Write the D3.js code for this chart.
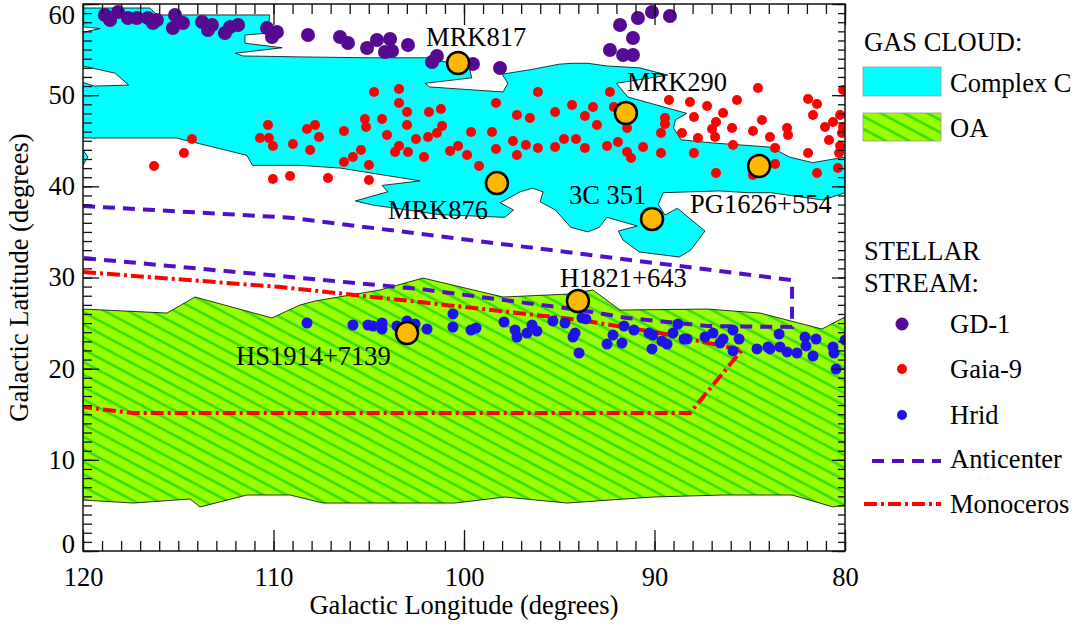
<!DOCTYPE html>
<html>
<head>
<meta charset="utf-8">
<script src="https://cdn.jsdelivr.net/npm/d3@7"></script>
<style>
body { margin: 0; background: #fff; }
svg text { font-family: "Liberation Serif", "Times New Roman", serif; }
</style>
</head>
<body>
<script>
// galactic coordinates, [l, b] in degrees
var xTicks = [120, 110, 100, 90, 80];
var yTicks = [0, 10, 20, 30, 40, 50, 60];

var complexC = [[120,59.56],[116.5,59.56],[116.1,58.8],[110.2,58.8],[110.3,56.8],[111.5,56.6],[111.5,55.7],[109.55,55.2],[112.0,54.6],[111.6,54.3],[108.6,54.2],[105.1,54.1],[101.9,54.1],[100.9,53.6],[99.7,52.9],[99.6,51.9],[102.05,51.3],[101.8,50.9],[97.95,50.35],[97.7,51.3],[98.0,52.3],[96.5,52.8],[95.0,53.4],[94.3,53.5],[93.5,53.5],[92.5,53.2],[90.8,53.0],[89.3,52.2],[92.0,51.3],[91.4,49.8],[88.3,48.0],[88.9,47.3],[89.0,46.4],[88.6,45.1],[86.9,44.75],[83.9,44.3],[82.9,43.2],[81.7,42.6],[80,43.2],[80,39.3],[81.15,38.5],[82.2,38.8],[83.9,39.3],[85.1,39.3],[86.6,39.5],[89.55,39.3],[89.8,38.0],[89.45,36.85],[88.8,37.6],[87.35,35.1],[88.1,33.0],[88.7,32.25],[90.8,32.8],[91.65,34.1],[91.9,35.1],[90.9,35.65],[92.5,36.6],[92.9,35.5],[93.5,35.0],[94.4,35.5],[95.2,37.4],[96.0,38.3],[95.85,39.4],[96.4,39.8],[97.05,39.4],[98.1,38.2],[97.4,37.4],[97.85,36.6],[101.3,36.9],[104.8,37.95],[105.7,38.4],[104.0,39.4],[104.3,40.1],[102.3,40.6],[106.5,42.0],[108.6,42.3],[111.1,42.3],[111.4,43.4],[115.1,45.3],[120,45.3],[120,51.4],[119.4,51.0],[117.6,51.1],[118.3,52.4],[120,53.2],[120,56.9],[119.1,57.3],[120,57.5]];
var complexCBit = [[120,43.98],[119.74,43.22],[120,42.34]];

var oaTop = [[120,26.54],[115.59,26.10],[114.12,27.86],[110.08,25.56],[108.61,26.98],[107.82,27.42],[104.41,28.63],[102.15,29.94],[97.95,27.86],[94.44,28.19],[93.23,28.63],[91.81,26.43],[87.24,26.54],[84.46,26.10],[81.21,24.35],[80,25.67]];
var oaBottom = [[120,5.59],[117.38,5.26],[114.38,5.70],[113.86,4.83],[111.39,6.14],[109.13,6.14],[107.40,5.26],[100.47,5.26],[97.85,5.92],[94.59,5.26],[90.08,5.92],[86.40,6.14],[82.78,6.14],[80.63,4.83],[80,5.05]];

var anticenter = [[120,37.84],[109.13,36.56],[82.78,29.72],[82.78,24.57],[87.24,24.68],[91.44,25.56],[93.91,26.43],[102.31,28.74],[109.66,30.16],[120,32.14]];
var monoceros = [[120,30.60],[109.66,28.96],[102.31,27.31],[93.91,25.34],[89.71,23.91],[85.41,22.05],[88.14,15.14],[117.38,15.14],[120,15.79]];

var gd1 = [[118.85,58.79],[118.58,58.24],[118.16,59.12],[117.64,58.46],[117.17,58.46],[116.59,58.46],[116.33,57.91],[116.12,58.24],[115.17,58.79],[115.28,57.37],[114.75,57.91],[113.75,58.02],[113.44,57.15],[113.23,57.69],[112.55,56.82],[112.28,57.47],[111.86,57.69],[110.34,57.37],[110.08,56.38],[109.82,56.93],[108.19,56.60],[106.51,56.38],[106.09,55.72],[105.09,55.17],[104.57,56.05],[103.88,56.16],[104.15,54.73],[103.78,54.84],[102.94,55.50],[101.68,53.64],[101.42,54.29],[99.53,53.42],[98.11,52.98],[92.34,54.95],[91.65,54.40],[91.13,54.40],[91.13,56.27],[91.81,57.69],[90.87,58.46],[90.13,59.12],[89.19,58.68]];

var gaia9 = [[116.27,42.23],[114.70,43.65],[114.28,45.19],[110.71,45.30],[110.29,46.72],[110.24,45.30],[110.03,44.42],[110.03,40.80],[109.13,41.13],[108.98,44.64],[107.14,40.91],[104.99,40.69],[108.24,46.28],[107.82,46.72],[107.61,45.41],[108.08,43.98],[106.30,46.07],[106.30,42.67],[105.83,43.22],[105.41,43.98],[104.99,42.34],[105.20,47.38],[105.14,46.51],[104.72,50.34],[104.30,47.38],[104.04,45.63],[103.62,43.76],[103.41,50.67],[103.41,49.14],[103.41,44.42],[102.99,48.15],[102.99,46.72],[102.94,43.76],[102.52,45.19],[102.10,43.22],[101.89,45.41],[101.84,48.15],[101.42,45.85],[101.21,48.48],[101.15,46.61],[100.73,43.87],[100.31,44.42],[99.84,43.43],[99.63,45.96],[99.21,42.23],[98.53,45.96],[98.32,49.14],[98.32,44.09],[97.43,44.97],[97.22,47.82],[97.22,43.43],[96.75,44.53],[96.54,47.49],[96.12,50.34],[96.12,44.20],[95.22,48.15],[95.22,44.31],[94.75,45.19],[94.33,48.92],[94.12,45.19],[93.65,44.20],[93.23,48.70],[93.65,47.71],[92.34,50.34],[93.02,46.72],[92.13,48.70],[92.49,44.42],[91.92,44.86],[91.44,46.40],[91.44,43.76],[91.23,43.10],[90.60,44.31],[89.66,45.85],[89.45,47.49],[89.45,46.84],[89.66,43.65],[89.24,49.47],[88.56,45.85],[88.14,49.25],[87.93,47.60],[87.93,43.65],[87.72,45.30],[87.24,48.81],[86.98,46.29],[86.82,45.41],[86.77,47.05],[86.40,48.04],[85.93,46.40],[85.88,44.53],[86.77,41.46],[85.67,49.47],[84.83,46.07],[84.83,41.24],[84.57,50.78],[84.36,47.27],[83.94,45.41],[83.67,44.20],[83.67,42.45],[83.04,46.40],[82.99,45.63],[81.94,49.57],[81.94,43.65],[81.68,47.82],[81.47,49.03],[81.47,41.46],[81.05,46.51],[80.84,45.08],[80.63,47.05],[80.37,42.01],[80.31,43.65],[80.26,44.42],[80.16,45.85],[80.10,46.51],[80.10,50.56],[80.26,47.82]];

var hrid = [[108.24,25.01],[105.83,24.79],[105.04,24.79],[104.78,24.68],[104.30,25.01],[104.30,24.35],[103.52,24.68],[102.99,25.23],[102.57,24.90],[101.94,24.35],[100.58,26.00],[100.58,24.57],[99.63,24.24],[99.37,24.46],[97.90,25.12],[97.32,24.24],[97.22,23.47],[96.69,23.91],[96.43,24.79],[96.17,24.13],[95.33,25.23],[94.70,25.01],[94.28,23.47],[94.17,23.91],[93.96,21.72],[93.81,25.56],[93.60,25.45],[92.49,22.70],[92.18,23.69],[91.71,22.81],[91.60,24.68],[91.08,24.24],[90.29,23.91],[90.08,23.69],[90.13,22.16],[89.61,23.03],[89.34,22.70],[89.03,23.91],[88.77,24.90],[88.45,23.25],[88.29,23.25],[87.35,23.47],[86.93,23.91],[86.56,22.81],[86.40,23.25],[85.88,24.24],[85.88,21.94],[85.56,23.25],[84.62,22.16],[84.04,22.38],[83.94,22.16],[83.46,23.80],[83.41,22.38],[83.04,21.83],[82.52,21.72],[82.10,23.47],[82.05,22.49],[81.68,21.39],[81.52,23.25],[80.63,22.38],[80.58,21.72],[80.47,19.96],[80.00,23.14]];

var qsoNames = ["MRK817", "MRK290", "MRK876", "3C 351", "PG1626+554", "H1821+643", "HS1914+7139"];
var qsoL = [100.31, 91.50, 98.27, 90.13, 84.51, 94.02, 102.99];
var qsoB = [53.53, 48.04, 40.36, 36.42, 42.23, 27.42, 23.91];

// label offsets from each sightline marker (px)
var labelOffset = {
    "MRK817": [-32, -17], "MRK290": [1, -22], "MRK876": [-109, 36],
    "3C 351": [-83, -15], "PG1626+554": [-69, 47], "H1821+643": [-18, -14],
    "HS1914+7139": [-171, 32]
};

var fontSize = 26.5;
var width = 1078, height = 626;
var x = d3.scaleLinear().domain([120, 80]).range([83, 845]);
var y = d3.scaleLinear().domain([0, 60]).range([551, 4]);

var svg = d3.select("body").append("svg")
    .attr("width", width)
    .attr("height", height);

var defs = svg.append("defs");
defs.append("clipPath").attr("id", "plotclip")
    .append("rect").attr("x", 83).attr("y", 4).attr("width", 762).attr("height", 547);
var pat = defs.append("pattern")
    .attr("id", "hatch")
    .attr("patternUnits", "userSpaceOnUse")
    .attr("width", 11).attr("height", 11)
    .attr("patternTransform", "rotate(28)");
pat.append("rect").attr("width", 11).attr("height", 11).attr("fill", "#99ff00");
pat.append("line").attr("x1", 0).attr("x2", 11).attr("y1", 5.5).attr("y2", 5.5)
    .attr("stroke", "#2edd00").attr("stroke-width", 2.4);

var line = d3.line().x(function (d) { return x(d[0]); }).y(function (d) { return y(d[1]); });

var plot = svg.append("g").attr("clip-path", "url(#plotclip)");

// gas clouds
plot.append("path").attr("d", line(complexC) + "Z")
    .attr("fill", "#00ffff").attr("stroke", "#000").attr("stroke-width", 0.8);
plot.append("path").attr("d", line(complexCBit) + "Z")
    .attr("fill", "#00ffff").attr("stroke", "#000").attr("stroke-width", 0.8);
plot.append("path").attr("d", line(oaTop.concat(oaBottom.slice().reverse())) + "Z")
    .attr("fill", "url(#hatch)").attr("stroke", "#000").attr("stroke-width", 0.8);

// streams
plot.append("path").attr("d", line(anticenter))
    .attr("fill", "none").attr("stroke", "#5010c8").attr("stroke-width", 4)
    .attr("stroke-dasharray", "12,8");
plot.append("path").attr("d", line(monoceros))
    .attr("fill", "none").attr("stroke", "#ff0000").attr("stroke-width", 4)
    .attr("stroke-dasharray", "13,4,3,4");

function dots(data, r, color) {
    plot.append("g").selectAll("circle")
        .data(data)
        .enter().append("circle")
        .attr("cx", function (d) { return x(d[0]); })
        .attr("cy", function (d) { return y(d[1]); })
        .attr("r", r)
        .attr("fill", color);
}
dots(gaia9, 5, "#ff0000");
dots(hrid, 5.5, "#1e12f2");
dots(gd1, 7, "#550a91");

// QSO sightlines
var qso = qsoNames.map(function (n, i) { return {name: n, l: qsoL[i], b: qsoB[i]}; });
svg.append("g").selectAll("circle")
    .data(qso)
    .enter().append("circle")
    .attr("cx", function (d) { return x(d.l); })
    .attr("cy", function (d) { return y(d.b); })
    .attr("r", 11)
    .attr("fill", "#ffb800")
    .attr("stroke", "#000")
    .attr("stroke-width", 2.5);
svg.append("g").selectAll("text")
    .data(qso)
    .enter().append("text")
    .attr("x", function (d) { return x(d.l) + labelOffset[d.name][0]; })
    .attr("y", function (d) { return y(d.b) + labelOffset[d.name][1]; })
    .attr("font-size", fontSize)
    .text(function (d) { return d.name; });

// axes
function styleAxis(g) {
    g.attr("font-family", null).attr("font-size", fontSize);
    g.select(".domain").remove();
    g.selectAll("line").attr("stroke", "#111").attr("stroke-width", 1.3);
    g.selectAll("text").attr("fill", "#000");
}
var minorX = d3.range(80, 121), minorY = d3.range(0, 61);

svg.append("g").attr("transform", "translate(0,551)")
    .call(d3.axisBottom(x).tickValues(minorX).tickSize(-10).tickFormat("")).call(styleAxis);
svg.append("g").attr("transform", "translate(0,551)")
    .call(d3.axisBottom(x).tickValues(xTicks).tickSize(-21).tickPadding(16).tickFormat(d3.format("d")))
    .call(styleAxis);
svg.append("g").attr("transform", "translate(0,4)")
    .call(d3.axisTop(x).tickValues(minorX).tickSize(-10).tickFormat("")).call(styleAxis);
svg.append("g").attr("transform", "translate(0,4)")
    .call(d3.axisTop(x).tickValues(xTicks).tickSize(-21).tickFormat("")).call(styleAxis);

svg.append("g").attr("transform", "translate(83,0)")
    .call(d3.axisLeft(y).tickValues(minorY).tickSize(-9).tickFormat("")).call(styleAxis);
var yl = svg.append("g").attr("transform", "translate(83,0)")
    .call(d3.axisLeft(y).tickValues(yTicks).tickSize(-16).tickPadding(8).tickFormat(d3.format("d")))
    .call(styleAxis);
// keep the end labels inside the picture
yl.selectAll("text").attr("y", function (d) { return d === 60 ? 11.5 : (d === 0 ? -7 : 0); });
svg.append("g").attr("transform", "translate(845,0)")
    .call(d3.axisRight(y).tickValues(minorY).tickSize(-7).tickFormat("")).call(styleAxis);
svg.append("g").attr("transform", "translate(845,0)")
    .call(d3.axisRight(y).tickValues(yTicks).tickSize(-13).tickFormat("")).call(styleAxis);

svg.append("rect").attr("x", 83).attr("y", 4).attr("width", 762).attr("height", 547)
    .attr("fill", "none").attr("stroke", "#111").attr("stroke-width", 1.5);

svg.append("text").attr("x", 464).attr("y", 614).attr("text-anchor", "middle")
    .attr("font-size", fontSize).text("Galactic Longitude (degrees)");
svg.append("text").attr("transform", "translate(28,277.5) rotate(-90)").attr("text-anchor", "middle")
    .attr("font-size", fontSize).text("Galactic Latitude (degrees)");

// legend
var leg = svg.append("g").attr("font-size", fontSize);
leg.append("text").attr("x", 864).attr("y", 51).text("GAS CLOUD:");
leg.append("rect").attr("x", 863).attr("y", 67).attr("width", 78).attr("height", 29)
    .attr("fill", "#00ffff").attr("stroke", "#999").attr("stroke-width", 0.8);
leg.append("text").attr("x", 950).attr("y", 92).text("Complex C");
leg.append("rect").attr("x", 863).attr("y", 113).attr("width", 78).attr("height", 28)
    .attr("fill", "url(#hatch)").attr("stroke", "#999").attr("stroke-width", 0.8);
leg.append("text").attr("x", 950).attr("y", 137).text("OA");
leg.append("text").attr("x", 864).attr("y", 260).text("STELLAR");
leg.append("text").attr("x", 864).attr("y", 292).text("STREAM:");
leg.append("circle").attr("cx", 902).attr("cy", 324).attr("r", 6.5).attr("fill", "#550a91");
leg.append("text").attr("x", 950).attr("y", 333).text("GD-1");
leg.append("circle").attr("cx", 902).attr("cy", 369).attr("r", 5).attr("fill", "#ff0000");
leg.append("text").attr("x", 950).attr("y", 378).text("Gaia-9");
leg.append("circle").attr("cx", 902).attr("cy", 415).attr("r", 5).attr("fill", "#1e12f2");
leg.append("text").attr("x", 950).attr("y", 424).text("Hrid");
leg.append("line").attr("x1", 872).attr("x2", 941).attr("y1", 461).attr("y2", 461)
    .attr("stroke", "#5010c8").attr("stroke-width", 4).attr("stroke-dasharray", "12,8");
leg.append("text").attr("x", 950).attr("y", 468).text("Anticenter");
leg.append("line").attr("x1", 864).attr("x2", 941).attr("y1", 504).attr("y2", 504)
    .attr("stroke", "#ff0000").attr("stroke-width", 4).attr("stroke-dasharray", "13,4,3,4");
leg.append("text").attr("x", 950).attr("y", 513).text("Monoceros");
</script>
</body>
</html>
